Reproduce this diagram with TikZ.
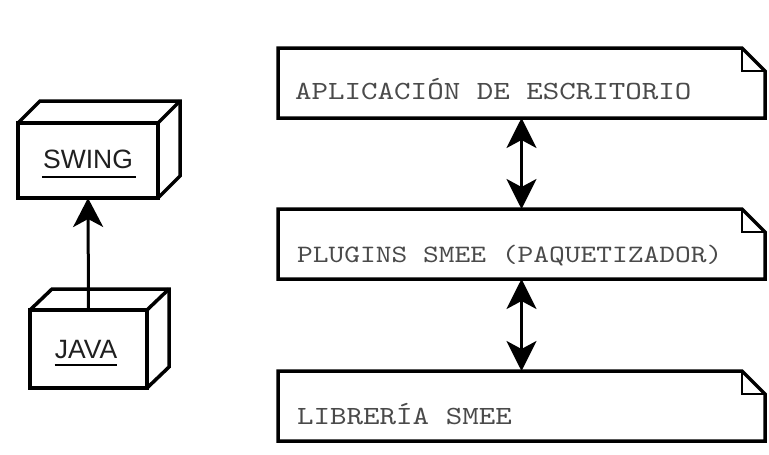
\documentclass[tikz,border=0pt]{standalone}
\usepackage{fontspec}
\newfontfamily\monofont{lmmono10-regular.otf}[FakeStretch=1.2]
\newfontfamily\sansfont{Liberation Sans}
\usetikzlibrary{arrows.meta}
\definecolor{txtgray}{HTML}{4A4A4A}
\tikzset{
  outline/.style={line width=3.5pt, line join=miter},
  foldline/.style={line width=1.6pt},
  notebox/.style={draw=none, minimum width=487pt, minimum height=70pt, anchor=north west, inner sep=0pt, outer sep=0pt},
  notetext/.style={anchor=base west, inner sep=0pt, text=txtgray, font=\monofont},
  cubeface/.style={draw, line width=3.5pt, anchor=north west, inner sep=0pt, outer sep=0pt},
  cubetext/.style={anchor=base, inner sep=0pt, text=black!88, font=\sansfont\fontsize{26.5}{30}\selectfont},
  dblarrow/.style={line width=3pt, {Stealth[length=30pt, width=30pt, inset=8pt]}-{Stealth[length=30pt, width=30pt, inset=8pt]}},
  uparrow/.style={line width=3pt, -{Stealth[length=29pt, width=30pt, inset=8pt]}}
}
\begin{document}
\begin{tikzpicture}[x=1pt, y=-1pt]
\useasboundingbox (0,0) rectangle (769,455);
\fill[white] (0,0) rectangle (769,455);

% ---- note boxes ----
\node[notebox] (app) at (278,48) {};
\node[notebox] (plug) at (278,209) {};
\node[notebox] (lib) at (278,371) {};
\foreach \n in {app,plug,lib}{
  \draw[outline] (\n.north west) -- ([xshift=-23pt]\n.north east)
     -- ([yshift=-23pt]\n.north east) -- (\n.south east) -- (\n.south west) -- cycle;
  \draw[foldline] ([xshift=-23pt]\n.north east) -- ([xshift=-23pt,yshift=-23pt]\n.north east)
     -- ([yshift=-23pt]\n.north east);
}
\node[notetext, font=\monofont\fontsize{26.2}{30}\selectfont] (appt) at (295,99) {APLICACIÓN DE ESCRITORIO};
\node[notetext, font=\monofont\fontsize{25}{30}\selectfont] (plugt) at (297,262) {PLUGINS SMEE (PAQUETIZADOR)};
\node[notetext, font=\monofont\fontsize{26.2}{30}\selectfont] (libt) at (297,424) {LIBRERÍA SMEE};

\draw[dblarrow] (app.south) -- (plug.north);
\draw[dblarrow] (plug.south) -- (lib.north);

% ---- cubes ----
\node[cubeface, minimum width=140pt, minimum height=75pt] (swing) at (18,123) {};
\draw[outline] (swing.north west) -- ++(22,-22) -- ([shift={(22,-22)}]swing.north east)
   -- ([shift={(22,-22)}]swing.south east) -- (swing.south east);
\draw[outline] (swing.north east) -- ++(22,-22);
\node[cubetext] (swingt) at (88,168) {SWING};
\draw[line width=1.6pt] ([xshift=-1pt,yshift=-9pt]swingt.base west) -- ([xshift=3pt,yshift=-9pt]swingt.base east);

\node[cubeface, minimum width=117pt, minimum height=78pt] (java) at (30,310) {};
\draw[outline] (java.north west) -- ++(22,-21) -- ([shift={(22,-21)}]java.north east)
   -- ([shift={(22,-21)}]java.south east) -- (java.south east);
\draw[outline] (java.north east) -- ++(22,-21);
\node[cubetext] (javat) at (86,358) {JAVA};
\draw[line width=1.6pt] ([yshift=-7pt]javat.base west) -- ([yshift=-7pt]javat.base east);

\draw[uparrow] (java.north) -- (swing.south);
\end{tikzpicture}
\end{document}
